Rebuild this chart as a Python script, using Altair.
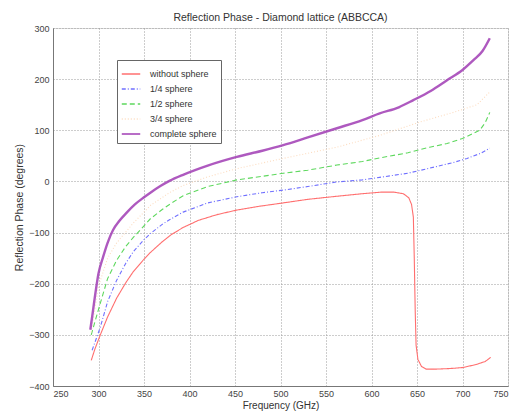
import altair as alt
import pandas as pd

series_names = ["without sphere", "1/4 sphere", "1/2 sphere", "3/4 sphere", "complete sphere"]

f_without = [292, 296, 302, 310, 320, 330, 338, 350, 357, 370, 380, 393, 410, 430, 452, 475, 503, 530, 562, 590, 610, 625, 635, 641, 644, 646, 647, 648, 649, 651, 655, 660, 670, 685, 700, 715, 725, 731]
v_without = [-350, -328, -300, -265, -228, -198, -177, -152, -139, -118, -104, -90, -76, -65, -56, -49, -42, -35, -29, -24, -21, -21, -24, -32, -45, -70, -150, -250, -320, -348, -362, -367, -367, -366, -364, -358, -352, -344]

f_quarter = [293, 297, 302, 310, 320, 330, 338, 350, 357, 370, 378, 393, 420, 452, 480, 503, 530, 562, 590, 609, 640, 664, 690, 705, 720, 730]
v_quarter = [-330, -310, -285, -235, -193, -160, -138, -114, -102, -84, -75, -60, -42, -30, -22, -17, -10, -1, 3, 8, 16, 26, 37, 45, 55, 65]

f_half = [292, 296, 302, 310, 320, 330, 338, 350, 357, 370, 378, 393, 420, 452, 480, 503, 530, 562, 590, 609, 640, 664, 683, 700, 719, 725, 730]
v_half = [-300, -275, -238, -190, -154, -127, -110, -87, -73, -55, -45, -28, -10, 3, 10, 16, 22, 32, 39, 46, 56, 67, 74, 84, 100, 115, 135]

f_three = [292, 300, 310, 320, 338, 357, 378, 393, 420, 452, 503, 562, 609, 653, 690, 716, 730]
v_three = [-295, -205, -150, -120, -82, -47, -22, -8, 9, 25, 45, 67, 90, 116, 135, 150, 175]

f_complete = [291, 293, 296, 300, 305, 310, 316, 323, 331, 340, 350, 357, 368, 378, 393, 420, 452, 480, 503, 530, 562, 590, 609, 630, 646, 665, 683, 700, 712, 722, 730]
v_complete = [-290, -265, -226, -180, -148, -120, -95, -77, -61, -45, -31, -22, -9, 1, 13, 31, 48, 60, 71, 86, 104, 120, 133, 145, 159, 177, 198, 218, 237, 255, 280]

x_ticks = [250, 300, 350, 400, 450, 500, 550, 600, 650, 700, 750]
y_ticks = [-400, -300, -200, -100, 0, 100, 200, 300]

colors = ["#ff6f6f", "#7070ff", "#5ed85e", "#fcdcc0", "#a03cb4"]
dashes = [[1, 0], [4, 2, 1, 2], [5, 3], [1, 2], [1, 0]]

rows = []
for name, fs, vs in zip(series_names,
                        [f_without, f_quarter, f_half, f_three, f_complete],
                        [v_without, v_quarter, v_half, v_three, v_complete]):
    for i, (f, v) in enumerate(zip(fs, vs)):
        rows.append({"series": name, "f": f, "v": v, "i": i})
df = pd.DataFrame(rows)

FONT = "Liberation Sans"

x_enc = alt.X("f:Q", scale=alt.Scale(domain=[250, 750], nice=False),
              axis=alt.Axis(title="Frequency (GHz)", values=x_ticks, grid=True,
                            gridDash=[1, 2], gridColor="#9a9a9a", ticks=False,
                            labelFontSize=9, titleFontSize=10, titleFontWeight="normal",
                            labelFont=FONT, titleFont=FONT, labelPadding=3, titlePadding=2,
                            domainColor="#777", labelColor="#444", titleColor="#333"))
y_enc = alt.Y("v:Q", scale=alt.Scale(domain=[-400, 300], nice=False),
              axis=alt.Axis(title="Reflection Phase (degrees)", values=y_ticks, grid=True,
                            gridDash=[1, 2], gridColor="#9a9a9a", ticks=False,
                            labelFontSize=9, titleFontSize=10.5, titleFontWeight="normal",
                            labelFont=FONT, titleFont=FONT, labelPadding=4, titlePadding=4,
                            domainColor="#777", labelColor="#444", titleColor="#333"))

color_enc = alt.Color("series:N", scale=alt.Scale(domain=series_names, range=colors),
                      legend=alt.Legend(title=None, orient="none", legendX=64, legendY=32,
                                        fillColor="white", strokeColor="#666", padding=4,
                                        labelFont=FONT, labelFontSize=9, labelColor="#333",
                                        symbolType="stroke", symbolSize=340, symbolStrokeWidth=1.3,
                                        rowPadding=0, labelOffset=9, labelLimit=200))
dash_enc = alt.StrokeDash("series:N", scale=alt.Scale(domain=series_names, range=dashes),
                          legend=None)

thin = alt.Chart(df).transform_filter(alt.datum.series != "complete sphere").mark_line(
    strokeWidth=1.1).encode(x=x_enc, y=y_enc, color=color_enc, strokeDash=dash_enc,
                            order="i:Q", detail="series:N")

thick = alt.Chart(df).transform_filter(alt.datum.series == "complete sphere").mark_line(
    strokeWidth=2.4, color="#a03cb4", opacity=0.85, interpolate="monotone").encode(
    x=x_enc, y=y_enc, order="i:Q")

chart = alt.layer(thin, thick).properties(
    width=455, height=358,
    title=alt.TitleParams("Reflection Phase - Diamond lattice (ABBCCA)", font=FONT,
                          fontSize=10.5, fontWeight="normal", color="#333", offset=1),
    autosize=alt.AutoSizeParams(type="none"),
    padding={"left": 45, "top": 20, "right": 2, "bottom": 27},
).configure_view(stroke="#777", strokeWidth=1).configure(background="white")

chart.save("out.html", embed_options={"renderer": "svg", "actions": False})
